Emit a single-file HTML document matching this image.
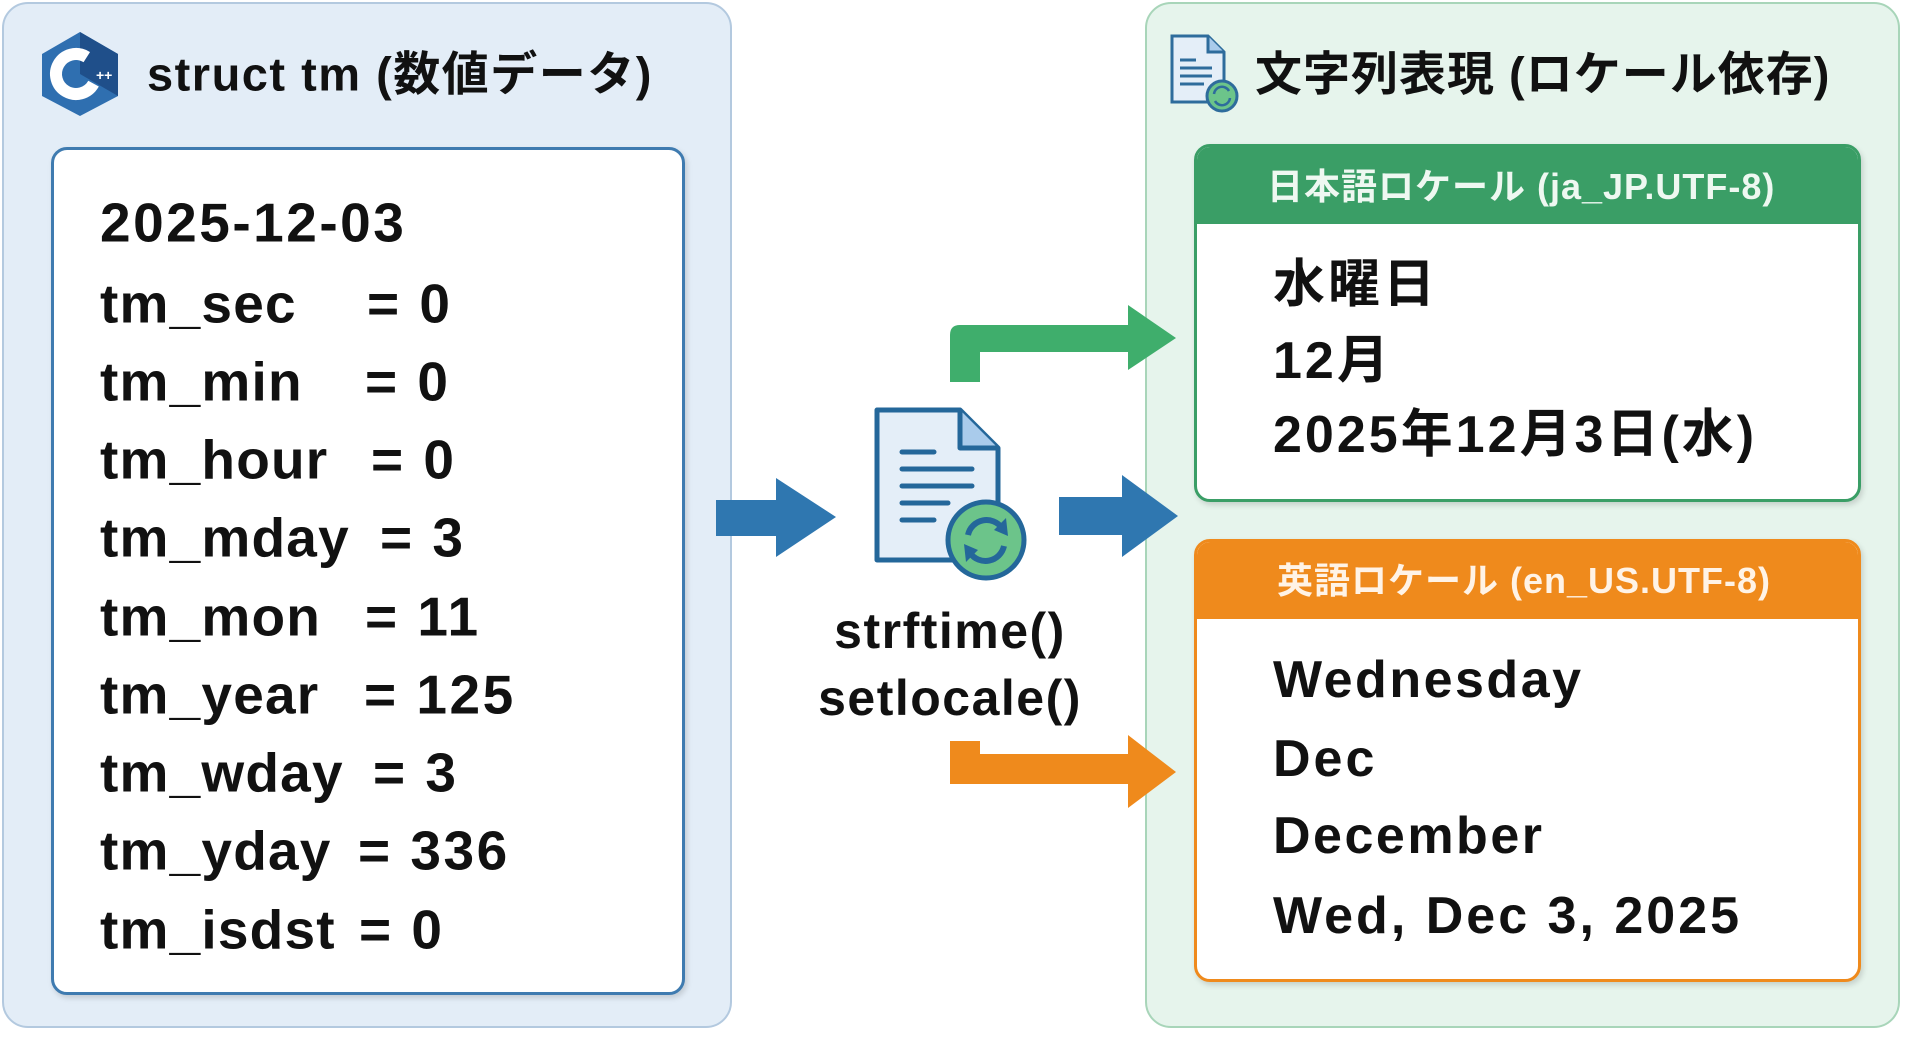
<!DOCTYPE html>
<html><head><meta charset="utf-8"><style>
body{margin:0;width:1920px;height:1047px;background:#fff;position:relative;overflow:hidden;font-family:"Liberation Sans","Noto Sans CJK JP",sans-serif;font-weight:bold;color:#111}
.a{position:absolute;white-space:nowrap}
.row{position:absolute;left:100px;font-size:55px;letter-spacing:1.2px;line-height:1;transform:translateY(-50%)}
.eq{position:absolute;font-size:55px;letter-spacing:2.5px;line-height:1;transform:translateY(-50%)}
.t{position:absolute;font-size:52px;letter-spacing:3px;line-height:1;transform:translateY(-50%);left:1273px}
</style></head><body>
<div class="a" style="left:2px;top:2px;width:730px;height:1026px;background:#e3edf7;border:2px solid #b3c9df;border-radius:26px;box-sizing:border-box"></div>
<div class="a" style="left:51px;top:147px;width:634px;height:848px;background:#fff;border:3px solid #3f7bb0;border-radius:16px;box-sizing:border-box;box-shadow:2px 3px 6px rgba(0,0,0,.15)"></div>
<svg class="a" style="left:36px;top:30px" width="88" height="88" viewBox="0 0 88 88"><polygon points="44,2 82,24 82,66 44,86 6,66 6,24" fill="#2f6fb0"/><polygon points="44,2 82,24 82,66 44,44" fill="#1f4f8a"/><circle cx="40" cy="44" r="20" fill="none" stroke="#fff" stroke-width="12" stroke-dasharray="95 30" transform="rotate(30 40 44)"/><text x="60" y="50" fill="#fff" font-size="14" font-family="Liberation Sans">++</text></svg>
<div class="a" style="left:147px;top:70px;transform:translateY(-50%);font-size:47px;letter-spacing:1.5px">struct tm (数値データ)</div>
<div class="row" style="top:223px;letter-spacing:2.5px">2025-12-03</div>
<div class="row" style="top:304px">tm_sec</div><div class="eq" style="left:367px;top:304px">= 0</div>
<div class="row" style="top:382px">tm_min</div><div class="eq" style="left:365px;top:382px">= 0</div>
<div class="row" style="top:460px">tm_hour</div><div class="eq" style="left:371px;top:460px">= 0</div>
<div class="row" style="top:538px">tm_mday</div><div class="eq" style="left:380px;top:538px">= 3</div>
<div class="row" style="top:617px">tm_mon</div><div class="eq" style="left:365px;top:617px">= 11</div>
<div class="row" style="top:695px">tm_year</div><div class="eq" style="left:364px;top:695px">= 125</div>
<div class="row" style="top:773px">tm_wday</div><div class="eq" style="left:373px;top:773px">= 3</div>
<div class="row" style="top:851px">tm_yday</div><div class="eq" style="left:358px;top:851px">= 336</div>
<div class="row" style="top:930px">tm_isdst</div><div class="eq" style="left:359px;top:930px">= 0</div>

<div class="a" style="left:1145px;top:2px;width:755px;height:1026px;background:#e6f4ec;border:2px solid #a8d5b9;border-radius:26px;box-sizing:border-box"></div>
<svg class="a" style="left:1168px;top:32px" width="76" height="84" viewBox="0 0 76 84"><path d="M4 4 H40 L56 20 V70 H4 Z" fill="#e4eef8" stroke="#2e6c9c" stroke-width="3"/><path d="M40 4 V20 H56" fill="#a9cbeb" stroke="#2e6c9c" stroke-width="3"/><g stroke="#2e6c9c" stroke-width="3"><line x1="12" y1="28" x2="28" y2="28"/><line x1="12" y1="36" x2="44" y2="36"/><line x1="12" y1="44" x2="44" y2="44"/><line x1="12" y1="52" x2="36" y2="52"/></g><circle cx="54" cy="64" r="15" fill="#6cc48a" stroke="#2e6c9c" stroke-width="3"/><path d="M46 62 A8 8 0 0 1 61 59" fill="none" stroke="#2e6c9c" stroke-width="2.5"/><path d="M62 66 A8 8 0 0 1 47 69" fill="none" stroke="#2e6c9c" stroke-width="2.5"/></svg>
<div class="a" style="left:1255px;top:70px;transform:translateY(-50%);font-size:47px;letter-spacing:1px">文字列表現 (ロケール依存)</div>

<div class="a" style="left:1194px;top:144px;width:667px;height:358px;background:#fff;border:3px solid #3a9e66;border-radius:16px;box-sizing:border-box;overflow:hidden;box-shadow:2px 3px 6px rgba(0,0,0,.15)"><div style="height:77px;background:#3a9e66"></div></div>
<div class="a" style="left:1267px;top:184px;transform:translateY(-50%);font-size:36px;letter-spacing:1px;color:#eef8f1">日本語ロケール (ja_JP.UTF-8)</div>
<div class="t" style="top:285px">水曜日</div>
<div class="t" style="top:361px">12月</div>
<div class="t" style="top:435px">2025年12月3日(水)</div>

<div class="a" style="left:1194px;top:539px;width:667px;height:443px;background:#fff;border:3px solid #ef8a1c;border-radius:16px;box-sizing:border-box;overflow:hidden;box-shadow:2px 3px 6px rgba(0,0,0,.15)"><div style="height:77px;background:#ef8a1c"></div></div>
<div class="a" style="left:1277px;top:578px;transform:translateY(-50%);font-size:36px;letter-spacing:1px;color:#fff3e6">英語ロケール (en_US.UTF-8)</div>
<div class="t" style="top:680px;letter-spacing:2.5px">Wednesday</div>
<div class="t" style="top:759px">Dec</div>
<div class="t" style="top:836px;letter-spacing:2.5px">December</div>
<div class="t" style="top:916px">Wed, Dec 3, 2025</div>

<svg class="a" style="left:0;top:0" width="1920" height="1047">
<polygon points="716,500 776,500 776,478 836,517 776,557 776,536 716,536" fill="#2f77b0"/>
<polygon points="1059,497 1122,497 1122,475 1178,516 1122,557 1122,535 1059,535" fill="#2f77b0"/>
<path d="M950 382 V335 Q950 325 960 325 H1128 V305 L1176 338 L1128 370 V352 H980 V382 Z" fill="#3fae6c"/>
<path d="M950 741 V784 H1128 V808 L1176 772 L1128 735 V754 H980 V741 Z" fill="#ef8a1c"/>
<path d="M877 410 H960 L998 448 V560 H877 Z" fill="#e4eef8" stroke="#24679a" stroke-width="5" stroke-linejoin="round"/>
<path d="M960 410 V448 H998" fill="#a9cbeb" stroke="#24679a" stroke-width="5" stroke-linejoin="round"/>
<g stroke="#24679a" stroke-width="5" stroke-linecap="round"><line x1="902" y1="452" x2="934" y2="452"/><line x1="902" y1="469" x2="972" y2="469"/><line x1="902" y1="486" x2="972" y2="486"/><line x1="902" y1="503" x2="948" y2="503"/><line x1="902" y1="520" x2="934" y2="520"/></g>
<circle cx="986" cy="540" r="38" fill="#6cc48a" stroke="#24679a" stroke-width="5"/>
<path d="M968 535 A19 19 0 0 1 1002 528" fill="none" stroke="#24679a" stroke-width="6"/><polygon points="1006,518 1008,536 994,530" fill="#24679a"/>
<path d="M1004 546 A19 19 0 0 1 970 553" fill="none" stroke="#24679a" stroke-width="6"/><polygon points="966,562 964,544 978,550" fill="#24679a"/>
<text x="950" y="648" text-anchor="middle" font-size="50" letter-spacing="1.5" font-weight="bold" font-family="Liberation Sans" fill="#111">strftime()</text>
<text x="950" y="715" text-anchor="middle" font-size="50" letter-spacing="1.5" font-weight="bold" font-family="Liberation Sans" fill="#111">setlocale()</text>
</svg>
</body></html>
